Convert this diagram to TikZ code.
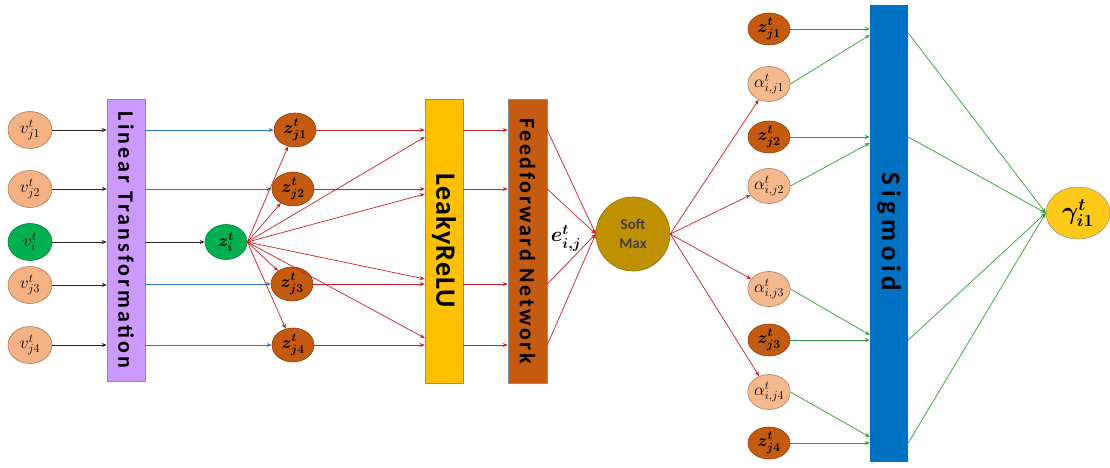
\documentclass[tikz,border=0pt]{standalone}
\usepackage{fontspec}
\newfontfamily\ltfont{Carlito}[LetterSpace=14]
\newfontfamily\lrfont{Carlito}[LetterSpace=4]
\newfontfamily\fffont{Carlito}[LetterSpace=12]
\newfontfamily\sgfont{Carlito}[LetterSpace=18]
\newfontfamily\smfont{Carlito}
\usetikzlibrary{shapes.geometric,arrows.meta,calc}
\definecolor{peach}{HTML}{F4B183}
\definecolor{peachb}{HTML}{A87E5E}
\definecolor{rust}{HTML}{C55A11}
\definecolor{grn}{HTML}{00B050}
\definecolor{lav}{HTML}{CC99FF}
\definecolor{ylw}{HTML}{FFC000}
\definecolor{sblue}{HTML}{0070C0}
\definecolor{smax}{HTML}{BF9000}
\definecolor{gold}{HTML}{FFC91A}
\definecolor{redl}{HTML}{C8202A}
\definecolor{bluel}{HTML}{2E75B6}
\definecolor{greenl}{HTML}{3A9A3A}
\tikzset{
  arr/.style={-{Stealth[length=5pt,width=4pt]}, line width=0.7pt},
  blk/.style={arr, draw=black!85},
  blu/.style={arr, draw=bluel},
  rd/.style={arr, draw=redl},
  gr/.style={arr, draw=greenl},
  ell/.style={ellipse, inner sep=0pt, line width=0.6pt, font=\fontsize{17}{19}\selectfont},
  vn/.style={ell, fill=peach, draw=peachb, minimum width=44pt, minimum height=37pt},
  an/.style={ell, fill=peach!90!white, draw=peachb, minimum width=42pt, minimum height=35pt},
  zn/.style={ell, fill=rust, draw=rust!70!black, minimum width=42pt, minimum height=34pt, font=\fontsize{17}{19}\selectfont\boldmath},
  gn/.style={ell, fill=grn, draw=grn!70!black, minimum width=44pt, minimum height=37pt},
  bar/.style={rectangle, draw=black!45, line width=0.5pt, inner sep=0pt},
  bartext/.style={rotate=-90, text=black, inner sep=0pt},
}
\begin{document}
\begin{tikzpicture}[x=1pt,y=-1pt]
\fill[white] (0,0) rectangle (1110,468);
\path[use as bounding box] (0,0) rectangle (1110,468);

% input nodes
\node[vn] (vj1) at (30,130) {$v^t_{j1}$};
\node[vn] (vj2) at (30,189) {$v^t_{j2}$};
\node[gn] (vi)  at (30,242) {$v^t_{i}$};
\node[vn] (vj3) at (30,285) {$v^t_{j3}$};
\node[vn] (vj4) at (30,345) {$v^t_{j4}$};

% bars
\node[bar, fill=lav, minimum width=38pt, minimum height=282pt] (LT) at (126,240) {};
\node[bartext, font=\ltfont\bfseries\fontsize{22}{24}\selectfont] at (LT.center) {Linear Transformation};
\node[bar, fill=ylw, minimum width=38pt, minimum height=284pt] (LR) at (444,241) {};
\node[bartext, font=\lrfont\bfseries\fontsize{28}{30}\selectfont] at (LR.center) {LeakyReLU};
\node[bar, fill=rust, minimum width=39pt, minimum height=284pt] (FF) at (527.5,241) {};
\node[bartext, font=\fffont\bfseries\fontsize{22}{24}\selectfont] at (FF.center) {Feedforward Network};
\node[bar, draw=none, fill=sblue, minimum width=38pt, minimum height=457pt] (SG) at (889,233.5) {};
\node[bartext, font=\sgfont\bfseries\fontsize{27}{29}\selectfont] at (889,232) {Sigmoid};

% z nodes
\node[zn] (zj1) at (295,130) {$z^t_{j1}$};
\node[zn] (zj2) at (293,189) {$z^t_{j2}$};
\node[gn, minimum width=42pt, minimum height=35pt, font=\fontsize{17}{19}\selectfont\boldmath] (zi) at (226,242) {$z^t_{i}$};
\node[zn] (zj3) at (292,284) {$z^t_{j3}$};
\node[zn] (zj4) at (293,345) {$z^t_{j4}$};

% soft max
\node[circle, fill=smax, draw=smax!75!black, line width=0.6pt, minimum size=74pt, inner sep=0pt,
      font=\smfont\bfseries\fontsize{15}{19}\selectfont, text=black!75, align=center] (SM) at (633,234) {Soft\\Max};
\node[font=\fontsize{22}{24}\selectfont\boldmath] (eij) at (566,238) {$e^t_{i,j}$};

% right column
\node[zn, minimum height=32pt] (rz1) at (769,29)  {$z^t_{j1}$};
\node[an] (aj1) at (769,84)  {$\alpha^t_{i,j1}$};
\node[zn, minimum height=32pt] (rz2) at (769,137) {$z^t_{j2}$};
\node[an] (aj2) at (769,186) {$\alpha^t_{i,j2}$};
\node[an] (aj3) at (769,289) {$\alpha^t_{i,j3}$};
\node[zn, minimum height=32pt] (rz3) at (769,340) {$z^t_{j3}$};
\node[an] (aj4) at (769,392) {$\alpha^t_{i,j4}$};
\node[zn, minimum height=32pt] (rz4) at (769,443) {$z^t_{j4}$};

\node[ellipse, fill=gold, draw=black!45, line width=0.5pt, inner sep=0pt, minimum width=64pt, minimum height=52pt,
      font=\fontsize{24}{26}\selectfont\boldmath] (gam) at (1078,213) {$\gamma^t_{i1}$};

% input -> LT
\foreach \n in {vj1,vj2,vi,vj3,vj4} \draw[blk] (\n) -- (\n -| LT.west);

% LT -> z
\foreach \n in {zj1,zj2,zj3,zj4} \draw[blu] (LT.east |- \n) -- (\n.west);
\draw[blk] (LT.east |- zi) -- (zi.west);

% zi -> zj
\foreach \n in {zj1,zj2,zj3,zj4} \draw[rd] (zi.east) -- (\n);

% to LeakyReLU
\foreach \n in {zj1,zj2,zj3,zj4} \draw[rd] (\n.east) -- (\n.east -| LR.west);
\coordinate (l1) at ($(LR.west |- zj1)+(0,7)$);
\coordinate (l2) at ($(LR.west |- zj2)+(0,5)$);
\coordinate (l3) at ($(LR.west |- zj3)+(0,-5)$);
\coordinate (l4) at ($(LR.west |- zj4)+(0,-7)$);
\foreach \c in {l1,l2,l3,l4} \draw[rd] (zi.east) -- (\c);

% LR -> FF
\foreach \n in {zj1,zj2,zj3,zj4} \draw[rd] (LR.east |- \n) -- (FF.west |- \n);

% FF -> SM
\foreach \n in {zj1,zj2,zj3,zj4} \draw[rd] (FF.east |- \n) -- (SM.west);

% SM -> alphas
\foreach \n in {aj1,aj2,aj3,aj4} \draw[rd] (SM.east) -- (\n);

% right -> sigmoid
\foreach \n in {rz1,rz2,rz3,rz4} \draw[gr] (\n.east) -- (\n.east -| SG.west);
\coordinate (s1) at ($(SG.west |- rz1)+(0,6)$);
\coordinate (s2) at ($(SG.west |- rz2)+(0,6)$);
\coordinate (s3) at ($(SG.west |- rz3)+(0,-5)$);
\coordinate (s4) at ($(SG.west |- rz4)+(0,-6)$);
\draw[gr] (aj1.east) -- (s1);
\draw[gr] (aj2.east) -- (s2);
\draw[gr] (aj3.east) -- (s3);
\draw[gr] (aj4.east) -- (s4);

% sigmoid -> gamma
\coordinate (o1) at ($(SG.east |- rz1)+(0,4)$);
\coordinate (o2) at (SG.east |- rz2);
\coordinate (o3) at (SG.east |- rz3);
\coordinate (o4) at (SG.east |- rz4);
\foreach \c in {o1,o2,o3,o4} \draw[gr] (\c) -- (gam.west);
\end{tikzpicture}
\end{document}
